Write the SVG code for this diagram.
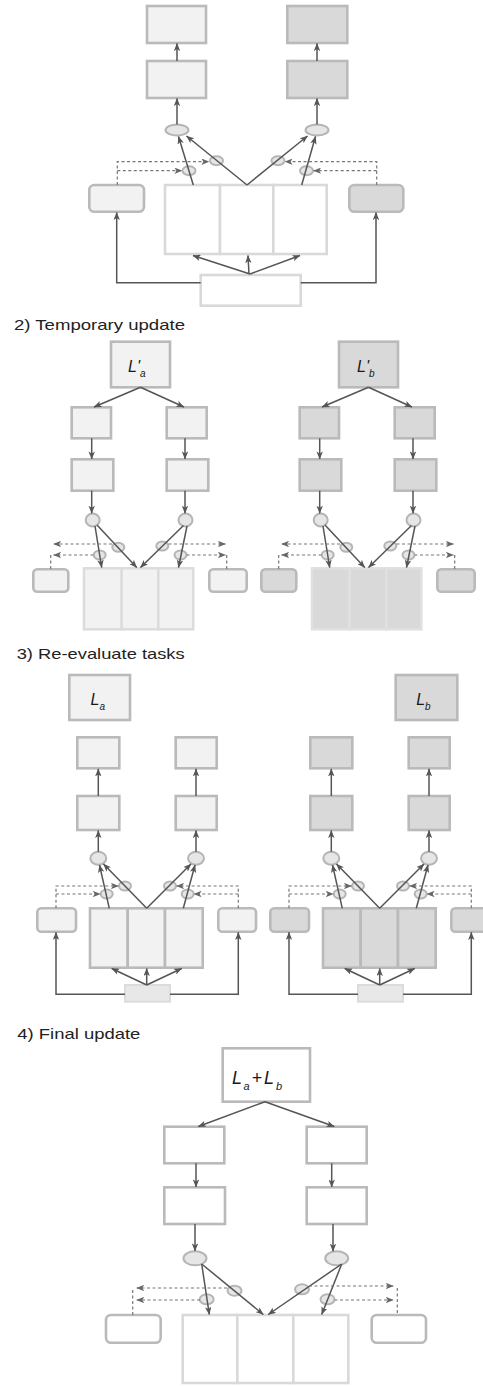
<svg xmlns="http://www.w3.org/2000/svg" width="483" height="1386" viewBox="0 0 483 1386">
<defs>
<style>
.b1{fill:#f2f2f2;stroke:#bababa;stroke-width:2.6}
.b2{fill:#d9d9d9;stroke:#bababa;stroke-width:2.6}
.bw{fill:#fff;stroke:#bababa;stroke-width:2.6}
.cw{fill:#fff;stroke:#d9d9d9;stroke-width:2.6}
.c1{fill:#f2f2f2;stroke:#dcdcdc;stroke-width:2.5}
.c2{fill:#d9d9d9;stroke:#e0e0e0;stroke-width:2.5}
.el{fill:#e6e6e6;stroke:#b5b5b5;stroke-width:2}
.c{stroke:#555;stroke-width:1.5;fill:none;marker-end:url(#a)}
.n{stroke:#555;stroke-width:1.5;fill:none}
.d{stroke:#777;stroke-width:1.2;stroke-dasharray:3 2.5;fill:none;marker-end:url(#ad)}
.dn{stroke:#777;stroke-width:1.2;stroke-dasharray:3 2.5;fill:none}
.h{font-family:"Liberation Sans",Arial,sans-serif;font-size:15px;fill:#222}
.lt{font-family:"Liberation Sans",Arial,sans-serif;font-style:italic;font-size:16px;fill:#1a1a1a}
.sb{font-size:10px}
</style>
<marker id="a" viewBox="0 0 10 8" refX="9.5" refY="4" markerWidth="8" markerHeight="6.4" markerUnits="userSpaceOnUse" orient="auto"><path d="M0,0 L10,4 L0,8 L2.5,4 z" fill="#555"/></marker>
<marker id="ad" viewBox="0 0 10 8" refX="9.5" refY="4" markerWidth="8" markerHeight="6.4" markerUnits="userSpaceOnUse" orient="auto"><path d="M0,0 L10,4 L0,8 L2.5,4 z" fill="#666"/></marker>
</defs>
<rect width="483" height="1386" fill="#fff"/>

<!-- ===== Section 1 ===== -->
<g id="s1-nodes">
<g id="s1-top-a"><rect class="b1" x="147" y="6" width="59" height="37"/></g>
<g id="s1-top-b"><rect class="b2" x="287.3" y="6" width="60" height="37"/></g>
<g id="s1-mid-a"><rect class="b1" x="147" y="61" width="59" height="37"/></g>
<g id="s1-mid-b"><rect class="b2" x="287.3" y="61" width="60" height="37"/></g>
<g id="s1-ell-a"><ellipse class="el" cx="177" cy="130" rx="11.5" ry="5.5"/></g>
<g id="s1-ell-b"><ellipse class="el" cx="317" cy="130" rx="11.5" ry="5.5"/></g>
<g id="s1-sm"><ellipse class="el" cx="216.5" cy="160.7" rx="6.5" ry="4.5"/><ellipse class="el" cx="189" cy="170.7" rx="6.5" ry="4.5"/><ellipse class="el" cx="278" cy="160.7" rx="6.5" ry="4.5"/><ellipse class="el" cx="306.5" cy="170.7" rx="6.5" ry="4.5"/></g>
<g id="s1-side-a"><rect class="b1" x="89.3" y="185" width="54.7" height="26.7" rx="5"/></g>
<g id="s1-side-b"><rect class="b2" x="349.3" y="185" width="54" height="26.7" rx="5"/></g>
<g id="s1-cells"><rect class="cw" x="165" y="185" width="55" height="69"/><rect class="cw" x="220" y="185" width="53.3" height="69"/><rect class="cw" x="273.3" y="185" width="53.4" height="69"/></g>
<g id="s1-bottom"><rect class="cw" x="200.7" y="275" width="100" height="30.7"/></g>
</g>
<g id="s1-connectors">
<line class="c" x1="177" y1="61" x2="177" y2="43.5"/>
<line class="c" x1="317" y1="61" x2="317" y2="43.5"/>
<line class="c" x1="177" y1="124.5" x2="177" y2="98.5"/>
<line class="c" x1="317" y1="124.5" x2="317" y2="98.5"/>
<line class="c" x1="193.3" y1="185" x2="178.5" y2="136.5"/>
<line class="c" x1="247" y1="185" x2="186.5" y2="136"/>
<line class="c" x1="247" y1="185" x2="307.5" y2="136"/>
<line class="c" x1="301.7" y1="185" x2="315.5" y2="136.5"/>
<path class="d" d="M117.3,185 V161.7 H209"/>
<path class="d" d="M117.3,170.7 H182"/>
<path class="d" d="M376.7,185 V161.7 H285"/>
<path class="d" d="M376.7,170.7 H313.5"/>
<line class="c" x1="250" y1="274" x2="193" y2="255.5"/>
<line class="c" x1="249" y1="274" x2="248" y2="255.5"/>
<line class="c" x1="250" y1="274" x2="300" y2="255.5"/>
<polyline class="c" points="200.7,282.7 116.7,282.7 116.7,212.5"/>
<polyline class="c" points="300.7,282.7 376,282.7 376,212.5"/>
</g>

<!-- ===== Section 2 ===== -->
<text id="s2-title" class="h" x="14" y="330" textLength="171" lengthAdjust="spacingAndGlyphs">2) Temporary update</text>
<g id="s2-left-nodes">
<g id="s2a-L"><rect class="b1" x="111" y="341.7" width="59" height="45.6"/><text class="lt" x="128" y="372">L'<tspan class="sb" dy="5">a</tspan></text></g>
<g id="s2a-r1"><rect class="b1" x="71.7" y="407.3" width="39.3" height="31"/><rect class="b1" x="166.7" y="407.3" width="40" height="31"/></g>
<g id="s2a-r2"><rect class="b1" x="71.7" y="459.3" width="41.6" height="31.4"/><rect class="b1" x="166.7" y="459.3" width="41.6" height="31.4"/></g>
<g id="s2a-ell"><ellipse class="el" cx="92.7" cy="520" rx="7" ry="6.5"/><ellipse class="el" cx="185.5" cy="520" rx="7" ry="6.5"/></g>
<g id="s2a-sm"><ellipse class="el" cx="118.3" cy="547.3" rx="6" ry="4.5"/><ellipse class="el" cx="99.7" cy="555" rx="6" ry="4.5"/><ellipse class="el" cx="162.3" cy="546" rx="6" ry="4.5"/><ellipse class="el" cx="180.5" cy="555" rx="6" ry="4.5"/></g>
<g id="s2a-cells"><rect class="c1" x="84" y="568.3" width="37.7" height="61"/><rect class="c1" x="121.7" y="568.3" width="36.6" height="61"/><rect class="c1" x="158.3" y="568.3" width="35" height="61"/></g>
<g id="s2a-side"><rect class="b1" x="33.3" y="569.3" width="35" height="22.4" rx="4"/><rect class="b1" x="209.3" y="569.3" width="37.4" height="22.4" rx="4"/></g>
</g>
<g id="s2-right-nodes" transform="translate(228,0)">
<g id="s2b-L"><rect class="b2" x="111" y="341.7" width="59" height="45.6"/><text class="lt" x="129" y="372">L'<tspan class="sb" dy="5">b</tspan></text></g>
<g id="s2b-r1"><rect class="b2" x="71.7" y="407.3" width="39.3" height="31"/><rect class="b2" x="166.7" y="407.3" width="40" height="31"/></g>
<g id="s2b-r2"><rect class="b2" x="71.7" y="459.3" width="41.6" height="31.4"/><rect class="b2" x="166.7" y="459.3" width="41.6" height="31.4"/></g>
<g id="s2b-ell"><ellipse class="el" cx="92.7" cy="520" rx="7" ry="6.5"/><ellipse class="el" cx="185.5" cy="520" rx="7" ry="6.5"/></g>
<g id="s2b-sm"><ellipse class="el" cx="118.3" cy="547.3" rx="6" ry="4.5"/><ellipse class="el" cx="99.7" cy="555" rx="6" ry="4.5"/><ellipse class="el" cx="162.3" cy="546" rx="6" ry="4.5"/><ellipse class="el" cx="180.5" cy="555" rx="6" ry="4.5"/></g>
<g id="s2b-cells"><rect class="c2" x="84" y="568.3" width="37.7" height="61"/><rect class="c2" x="121.7" y="568.3" width="36.6" height="61"/><rect class="c2" x="158.3" y="568.3" width="35" height="61"/></g>
<g id="s2b-side"><rect class="b2" x="33.3" y="569.3" width="35" height="22.4" rx="4"/><rect class="b2" x="209.3" y="569.3" width="37.4" height="22.4" rx="4"/></g>
</g>
<g id="s2-connectors">
<g id="s2a-conn">
<line class="c" x1="140.5" y1="387.3" x2="94" y2="407"/>
<line class="c" x1="140.5" y1="387.3" x2="184" y2="407"/>
<line class="c" x1="91.7" y1="438.3" x2="91.7" y2="459"/>
<line class="c" x1="185" y1="438.3" x2="185" y2="459"/>
<line class="c" x1="91.7" y1="490.7" x2="91.7" y2="513.3"/>
<line class="c" x1="185" y1="490.7" x2="185" y2="513.3"/>
<line class="c" x1="95" y1="526" x2="101.7" y2="567.5"/>
<line class="c" x1="97" y1="525" x2="136.7" y2="567.5"/>
<line class="c" x1="183.5" y1="525.5" x2="140.5" y2="567.5"/>
<line class="c" x1="187" y1="526" x2="178.5" y2="567.5"/>
<path class="d" d="M112,544 H53.5"/>
<path class="d" d="M93.5,555 H53.5"/>
<path class="dn" d="M50.7,555 V569.3"/>
<path class="d" d="M168.5,544 H225.5"/>
<path class="d" d="M186.5,555 H225.5"/>
<path class="dn" d="M226.7,555 V569.3"/>
</g>
<g id="s2b-conn" transform="translate(228,0)">
<line class="c" x1="140.5" y1="387.3" x2="94" y2="407"/>
<line class="c" x1="140.5" y1="387.3" x2="184" y2="407"/>
<line class="c" x1="91.7" y1="438.3" x2="91.7" y2="459"/>
<line class="c" x1="185" y1="438.3" x2="185" y2="459"/>
<line class="c" x1="91.7" y1="490.7" x2="91.7" y2="513.3"/>
<line class="c" x1="185" y1="490.7" x2="185" y2="513.3"/>
<line class="c" x1="95" y1="526" x2="101.7" y2="567.5"/>
<line class="c" x1="97" y1="525" x2="136.7" y2="567.5"/>
<line class="c" x1="183.5" y1="525.5" x2="140.5" y2="567.5"/>
<line class="c" x1="187" y1="526" x2="178.5" y2="567.5"/>
<path class="d" d="M112,544 H53.5"/>
<path class="d" d="M93.5,555 H53.5"/>
<path class="dn" d="M50.7,555 V569.3"/>
<path class="d" d="M168.5,544 H225.5"/>
<path class="d" d="M186.5,555 H225.5"/>
<path class="dn" d="M226.7,555 V569.3"/>
</g>
</g>

<!-- ===== Section 3 ===== -->
<text id="s3-title" class="h" x="16.7" y="659.3" textLength="168" lengthAdjust="spacingAndGlyphs">3) Re-evaluate tasks</text>
<g id="s3-left-nodes">
<g id="s3a-L"><rect class="b1" x="69.3" y="675" width="60.7" height="45"/><text class="lt" x="90.5" y="705">L<tspan class="sb" dy="5">a</tspan></text></g>
<g id="s3a-r1"><rect class="b1" x="77.3" y="737.3" width="42" height="31"/><rect class="b1" x="175.7" y="737.3" width="41" height="31"/></g>
<g id="s3a-r2"><rect class="b1" x="77.3" y="796" width="42" height="34"/><rect class="b1" x="175.7" y="796" width="41" height="34"/></g>
<g id="s3a-ell"><ellipse class="el" cx="98.3" cy="858.3" rx="8" ry="6.5"/><ellipse class="el" cx="196" cy="858.3" rx="8" ry="6.5"/></g>
<g id="s3a-sm"><ellipse class="el" cx="125" cy="886" rx="6" ry="4.5"/><ellipse class="el" cx="106.7" cy="894" rx="6" ry="4.5"/><ellipse class="el" cx="170" cy="886" rx="6" ry="4.5"/><ellipse class="el" cx="187.7" cy="894" rx="6" ry="4.5"/></g>
<g id="s3a-side"><rect class="b1" x="37.3" y="908.3" width="38.7" height="23.4" rx="4"/><rect class="b1" x="218.3" y="908.3" width="37.7" height="23.4" rx="4"/></g>
<g id="s3a-cells"><rect class="b1" x="90" y="908.3" width="37.7" height="59.4"/><rect class="b1" x="127.7" y="908.3" width="37.3" height="59.4"/><rect class="b1" x="165" y="908.3" width="37.7" height="59.4"/></g>
<g id="s3a-bottom"><rect fill="#e8e8e8" stroke="#dcdcdc" stroke-width="2" x="125" y="985" width="45" height="16.7"/></g>
</g>
<g id="s3-right-nodes" transform="translate(233,0)">
<g id="s3b-L"><rect class="b2" x="162.7" y="675" width="61.6" height="45"/><text class="lt" x="183.2" y="705">L<tspan class="sb" dy="5">b</tspan></text></g>
<g id="s3b-r1"><rect class="b2" x="77.3" y="737.3" width="42" height="31"/><rect class="b2" x="175.7" y="737.3" width="41" height="31"/></g>
<g id="s3b-r2"><rect class="b2" x="77.3" y="796" width="42" height="34"/><rect class="b2" x="175.7" y="796" width="41" height="34"/></g>
<g id="s3b-ell"><ellipse class="el" cx="98.3" cy="858.3" rx="8" ry="6.5"/><ellipse class="el" cx="196" cy="858.3" rx="8" ry="6.5"/></g>
<g id="s3b-sm"><ellipse class="el" cx="125" cy="886" rx="6" ry="4.5"/><ellipse class="el" cx="106.7" cy="894" rx="6" ry="4.5"/><ellipse class="el" cx="170" cy="886" rx="6" ry="4.5"/><ellipse class="el" cx="187.7" cy="894" rx="6" ry="4.5"/></g>
<g id="s3b-side"><rect class="b2" x="37.3" y="908.3" width="38.7" height="23.4" rx="4"/><rect class="b2" x="218.3" y="908.3" width="37.7" height="23.4" rx="4"/></g>
<g id="s3b-cells"><rect class="b2" x="90" y="908.3" width="37.7" height="59.4"/><rect class="b2" x="127.7" y="908.3" width="37.3" height="59.4"/><rect class="b2" x="165" y="908.3" width="37.7" height="59.4"/></g>
<g id="s3b-bottom"><rect fill="#e8e8e8" stroke="#dcdcdc" stroke-width="2" x="125" y="985" width="45" height="16.7"/></g>
</g>
<g id="s3-connectors">
<g id="s3a-conn">
<line class="c" x1="98.3" y1="796" x2="98.3" y2="768.8"/>
<line class="c" x1="196" y1="796" x2="196" y2="768.8"/>
<line class="c" x1="98.3" y1="851.8" x2="98.3" y2="830.5"/>
<line class="c" x1="196" y1="851.8" x2="196" y2="830.5"/>
<line class="c" x1="146.7" y1="908.3" x2="103.5" y2="864"/>
<line class="c" x1="109.3" y1="908.3" x2="99.5" y2="865"/>
<line class="c" x1="146.7" y1="908.3" x2="191" y2="864"/>
<line class="c" x1="183.3" y1="908.3" x2="195" y2="865"/>
<path class="d" d="M56,908.3 V886 H118.5"/>
<path class="d" d="M56,894 H100.3"/>
<path class="d" d="M238.3,908.3 V886 H176.5"/>
<path class="d" d="M238.3,894 H194"/>
<line class="c" x1="146.7" y1="985" x2="111.7" y2="968.5"/>
<line class="c" x1="146.7" y1="985" x2="146.7" y2="968.5"/>
<line class="c" x1="146.7" y1="985" x2="181.7" y2="968.5"/>
<polyline class="c" points="125,994.3 56,994.3 56,932.3"/>
<polyline class="c" points="170,994.3 238.3,994.3 238.3,932.3"/>
</g>
<g id="s3b-conn" transform="translate(233,0)">
<line class="c" x1="98.3" y1="796" x2="98.3" y2="768.8"/>
<line class="c" x1="196" y1="796" x2="196" y2="768.8"/>
<line class="c" x1="98.3" y1="851.8" x2="98.3" y2="830.5"/>
<line class="c" x1="196" y1="851.8" x2="196" y2="830.5"/>
<line class="c" x1="146.7" y1="908.3" x2="103.5" y2="864"/>
<line class="c" x1="109.3" y1="908.3" x2="99.5" y2="865"/>
<line class="c" x1="146.7" y1="908.3" x2="191" y2="864"/>
<line class="c" x1="183.3" y1="908.3" x2="195" y2="865"/>
<path class="d" d="M56,908.3 V886 H118.5"/>
<path class="d" d="M56,894 H100.3"/>
<path class="d" d="M238.3,908.3 V886 H176.5"/>
<path class="d" d="M238.3,894 H194"/>
<line class="c" x1="146.7" y1="985" x2="111.7" y2="968.5"/>
<line class="c" x1="146.7" y1="985" x2="146.7" y2="968.5"/>
<line class="c" x1="146.7" y1="985" x2="181.7" y2="968.5"/>
<polyline class="c" points="125,994.3 56,994.3 56,932.3"/>
<polyline class="c" points="170,994.3 238.3,994.3 238.3,932.3"/>
</g>
</g>

<!-- ===== Section 4 ===== -->
<text id="s4-title" class="h" x="17.3" y="1039.3" textLength="123" lengthAdjust="spacingAndGlyphs">4) Final update</text>
<g id="s4-nodes">
<g id="s4-L"><rect class="bw" x="222.7" y="1048.3" width="87.3" height="53.4"/><text class="lt" y="1084" style="font-size:18px"><tspan x="232">L</tspan><tspan class="sb" x="243.5" y="1089.5" style="font-size:11px">a</tspan><tspan x="251.5" y="1084">+</tspan><tspan x="264">L</tspan><tspan class="sb" x="276" y="1089.5" style="font-size:11px">b</tspan></text></g>
<g id="s4-r1"><rect class="bw" x="164.3" y="1126.7" width="60" height="36.6"/><rect class="bw" x="306.7" y="1126.7" width="60" height="36.6"/></g>
<g id="s4-r2"><rect class="bw" x="164.3" y="1187.3" width="60.7" height="36.7"/><rect class="bw" x="306.7" y="1187.3" width="60" height="36.7"/></g>
<g id="s4-ell"><ellipse class="el" cx="195" cy="1258.3" rx="11.5" ry="7"/><ellipse class="el" cx="336.7" cy="1258.3" rx="11.5" ry="7"/></g>
<g id="s4-sm"><ellipse class="el" cx="206.7" cy="1299.3" rx="7" ry="5"/><ellipse class="el" cx="234.5" cy="1290.7" rx="7" ry="5"/><ellipse class="el" cx="302" cy="1289.3" rx="7" ry="5"/><ellipse class="el" cx="327.5" cy="1299.3" rx="7" ry="5"/></g>
<g id="s4-side"><rect class="bw" x="106" y="1315" width="54.7" height="27.7" rx="5"/><rect class="bw" x="371.7" y="1315" width="54.3" height="27.7" rx="5"/></g>
<g id="s4-cells"><rect class="cw" x="182.7" y="1315" width="54.6" height="68"/><rect class="cw" x="237.3" y="1315" width="56" height="68"/><rect class="cw" x="293.3" y="1315" width="55" height="68"/></g>
</g>
<g id="s4-connectors">
<line class="c" x1="265" y1="1101.7" x2="198.3" y2="1126.5"/>
<line class="c" x1="265" y1="1101.7" x2="334.3" y2="1126.5"/>
<line class="c" x1="196" y1="1163.3" x2="196" y2="1187"/>
<line class="c" x1="331.7" y1="1163.3" x2="331.7" y2="1187"/>
<line class="c" x1="195" y1="1224" x2="195" y2="1251"/>
<line class="c" x1="333" y1="1224" x2="333" y2="1251.3"/>
<line class="c" x1="201.7" y1="1264" x2="209.3" y2="1314.5"/>
<line class="c" x1="201.7" y1="1264" x2="263.3" y2="1314.5"/>
<line class="c" x1="341.7" y1="1264" x2="268.3" y2="1314.5"/>
<line class="c" x1="341.7" y1="1264" x2="321.7" y2="1314.5"/>
<path class="d" d="M227,1288 H136.7"/>
<path class="d" d="M200,1300 H136.7"/>
<path class="dn" d="M132.7,1290 V1315"/>
<path class="d" d="M309,1286 H393.3"/>
<path class="d" d="M334.5,1300 H393.3"/>
<path class="dn" d="M397.3,1288 V1315"/>
</g>
</svg>
